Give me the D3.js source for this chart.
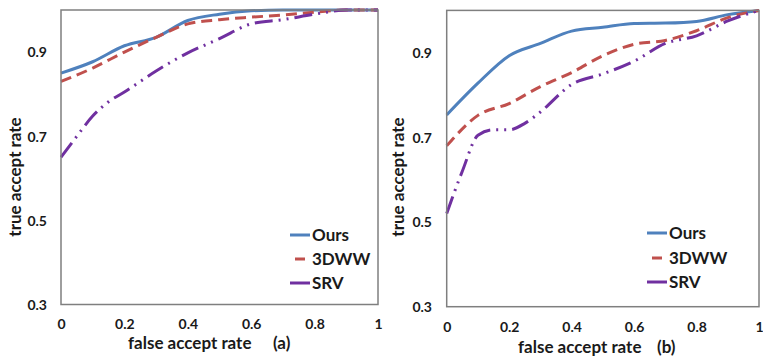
<!DOCTYPE html>
<html><head><meta charset="utf-8">
<script src="https://cdn.jsdelivr.net/npm/d3@7"></script>
<style>body{margin:0;background:#fff}svg{display:block}text{font-family:Lato,"Open Sans",sans-serif;font-weight:bold;fill:#1a1a1a}</style>
</head><body>
<svg id="c" width="763" height="358"></svg>
<script>
const seriesNames = ["Ours", "3DWW", "SRV"];
const xTicks = [0, 0.2, 0.4, 0.6, 0.8, 1];
const xTickLabels = ["0", "0.2", "0.4", "0.6", "0.8", "1"];
const yTicks = [0.3, 0.5, 0.7, 0.9];
const yTickLabels = ["0.3", "0.5", "0.7", "0.9"];

// panel (a)
const fprA = [0, 0.1, 0.2, 0.3, 0.4, 0.5, 0.6, 0.7, 0.8, 0.9, 1];
const oursA = [0.85, 0.877, 0.915, 0.935, 0.975, 0.99, 0.998, 1.0, 1.0, 1.0, 1.0];
const dwwA  = [0.83, 0.862, 0.90, 0.935, 0.967, 0.977, 0.983, 0.988, 0.995, 1.0, 1.0];
const fprSrvA = [0, 0.05, 0.1, 0.15, 0.2, 0.3, 0.4, 0.5, 0.6, 0.7, 0.8, 0.9, 1];
const srvA  = [0.65, 0.70, 0.748, 0.782, 0.805, 0.855, 0.898, 0.932, 0.967, 0.977, 0.99, 1.0, 1.0];

// panel (b)
const fprB = [0, 0.1, 0.2, 0.3, 0.4, 0.5, 0.6, 0.7, 0.8, 0.9, 1];
const oursB = [0.753, 0.828, 0.893, 0.922, 0.951, 0.96, 0.969, 0.970, 0.974, 0.99, 1.0];
const dwwB  = [0.68, 0.752, 0.78, 0.82, 0.853, 0.893, 0.92, 0.929, 0.952, 0.983, 1.0];
const fprSrvB = [0, 0.05, 0.1, 0.15, 0.2, 0.25, 0.3, 0.4, 0.5, 0.6, 0.7, 0.8, 0.9, 1];
const srvB  = [0.52, 0.62, 0.705, 0.718, 0.718, 0.733, 0.76, 0.825, 0.85, 0.88, 0.922, 0.94, 0.975, 1.0];

const colors = ["#4F81BD", "#C0504D", "#7030A0"];
const dashes = [null, "11,6", "18,6,2,6,2,6"];

const panels = [
  {x0: 61, x1: 378, y0: 10, y1: 304.5, label: "false accept rate", tag: "(a)", labelX: 128, tagX: 273, labelY: 349,
   ylabX: 15, tickY: 329, yTickRight: 47, legX: 290, legY: [235, 259, 283],
   series: [[fprA, oursA], [fprA, dwwA], [fprSrvA, srvA]]},
  {x0: 446.7, x1: 759, y0: 10.4, y1: 306.7, label: "false accept rate", tag: "(b)", labelX: 518, tagX: 657, labelY: 353,
   ylabX: 398, tickY: 332, yTickRight: 432, legX: 647, legY: [233, 258, 282],
   series: [[fprB, oursB], [fprB, dwwB], [fprSrvB, srvB]]}
];

const svg = d3.select("#c");
panels.forEach(p => {
  const x = d3.scaleLinear().domain([0, 1]).range([p.x0, p.x1]);
  const y = d3.scaleLinear().domain([0.3, 1.0]).range([p.y1, p.y0]);
  const g = svg.append("g");
  p.series.forEach((s, i) => {
    const pts = s[0].map((v, k) => [v, s[1][k]]);
    const line = d3.line().x(d => x(d[0])).y(d => y(d[1])).curve(d3.curveMonotoneX);
    g.append("path").attr("d", line(pts)).attr("fill", "none")
      .attr("stroke", colors[i]).attr("stroke-width", 3)
      .attr("stroke-dasharray", dashes[i]);
  });
  g.append("rect").attr("x", p.x0).attr("y", p.y0).attr("width", p.x1 - p.x0).attr("height", p.y1 - p.y0)
    .attr("fill", "none").attr("stroke", "#7f7f7f").attr("stroke-width", 1.5);
  const xa = d3.axisBottom(x).tickValues(xTicks).tickFormat((d, i) => xTickLabels[i]).tickSize(0).tickPadding(0);
  const xg = g.append("g").attr("transform", `translate(0,${p.tickY})`).call(xa);
  xg.select(".domain").remove();
  xg.selectAll("text").attr("dy", 0).attr("y", 0).style("font-size", "14px").style("font-family", "Lato").style("font-weight", "bold").attr("fill", "#1a1a1a");
  const ya = d3.axisLeft(y).tickValues(yTicks).tickFormat((d, i) => yTickLabels[i]).tickSize(0).tickPadding(0);
  const yg = g.append("g").attr("transform", `translate(${p.yTickRight},0)`).call(ya);
  yg.select(".domain").remove();
  yg.selectAll("text").attr("x", 0).attr("dy", "0.35em").style("font-size", "14px").style("font-family", "Lato").style("font-weight", "bold").attr("fill", "#1a1a1a");
  g.append("text").attr("x", p.labelX).attr("y", p.labelY).style("font-size", "17px").text(p.label);
  g.append("text").attr("x", p.tagX).attr("y", p.labelY).style("font-size", "17px").text(p.tag);
  g.append("text").attr("transform", `translate(${p.ylabX + 6},177) rotate(-90)`).attr("text-anchor", "middle")
    .style("font-size", "17px").text("true accept rate");
  seriesNames.forEach((n, i) => {
    const ly = p.legY[i];
    g.append("line").attr("x1", p.legX).attr("x2", p.legX + 20).attr("y1", ly).attr("y2", ly)
      .attr("stroke", colors[i]).attr("stroke-width", 3).attr("stroke-dasharray", i === 1 ? "0,5,10,20" : null);
    g.append("text").attr("x", p.legX + 22).attr("y", ly).attr("dy", "0.36em").style("font-size", "17px").text(n);
  });
});
</script>
</body></html>
